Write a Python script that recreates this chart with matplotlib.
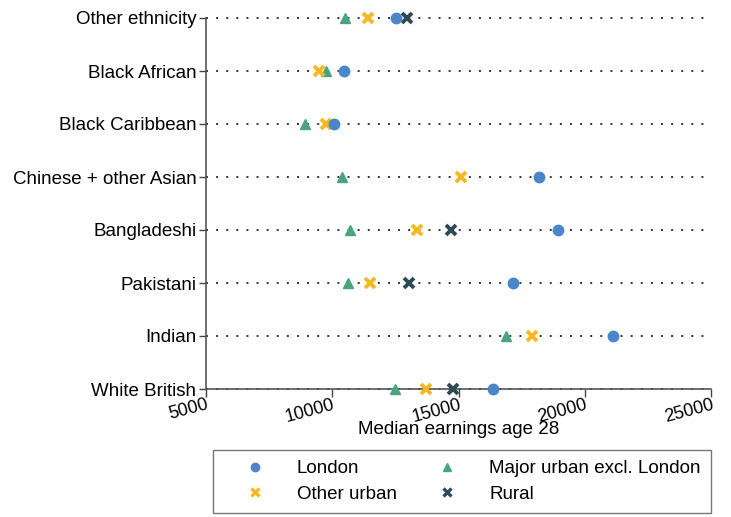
import numpy as np
import matplotlib
matplotlib.use("Agg")
import matplotlib.pyplot as plt
from matplotlib.lines import Line2D

plt.rcParams['font.family'] = ['Liberation Sans', 'DejaVu Sans']

groups = ["White British", "Indian", "Pakistani", "Bangladeshi",
          "Chinese + other Asian", "Black Caribbean", "Black African", "Other ethnicity"]
london = [16380, 21130, 17160, 18930, 18190, 10070, 10470, 12510]
major_urban = [12490, 16880, 10640, 10700, 10370, 8920, 9750, 10505]
other_urban = [13700, 17900, 11500, 13360, 15090, 9750, 9490, 11430]
rural = [14770, np.nan, 13050, 14690, np.nan, np.nan, np.nan, 12960]
xticks = [5000, 10000, 15000, 20000, 25000]

fig = plt.figure(figsize=(7.31, 5.17), dpi=100)
ax = fig.add_axes([206/731, 1-389/517, (711-206)/731, (389-18)/517])

ypos = np.arange(len(groups))
for y in ypos:
    ax.axhline(y, color='#333333', linestyle=(0, (1, 4.2)), linewidth=1.4, zorder=1)

c_lon = '#4a86c8'
c_maj = '#4aa57f'
c_oth = '#f5b820'
c_rur = '#2f4a56'

ax.plot(major_urban, ypos, linestyle='none', marker='^', ms=7.5, color=c_maj, zorder=3)
ax.plot(other_urban, ypos, linestyle='none', marker='x', ms=7, mew=2.8, color=c_oth, zorder=3)
ax.plot(rural, ypos, linestyle='none', marker='x', ms=7, mew=2.8, color=c_rur, zorder=3)
ax.plot(london, ypos, linestyle='none', marker='o', ms=7.5, color=c_lon, zorder=3)

ax.set_xlim(5000, 25000)
ax.set_ylim(0, 7)
ax.set_yticks(ypos)
ax.set_yticklabels(groups, fontsize=13.5)
ax.set_xticks(xticks)
ax.set_xticklabels([str(t) for t in xticks], fontsize=13, rotation=15,
                   ha='right', rotation_mode='anchor')
ax.tick_params(axis='x', length=6, width=1, color='#444444', pad=-1)
ax.tick_params(axis='y', length=5, width=1, color='#444444', pad=2)
ax.set_xlabel("Median earnings age 28", fontsize=13.5, labelpad=-3)
for s in ['top', 'right']:
    ax.spines[s].set_visible(False)
for s in ['left', 'bottom']:
    ax.spines[s].set_color('#555555')
    ax.spines[s].set_linewidth(1.2)
for l in ax.lines:
    l.set_clip_on(False)

handles = [
    Line2D([], [], linestyle='none', marker='o', ms=6, color=c_lon),
    Line2D([], [], linestyle='none', marker='x', ms=5.5, mew=2.4, color=c_oth),
    Line2D([], [], linestyle='none', marker='^', ms=6, color=c_maj),
    Line2D([], [], linestyle='none', marker='x', ms=5.5, mew=2.4, color=c_rur),
]
labels = ["London", "Other urban", "Major urban excl. London", "Rural"]
leg = fig.legend(handles, labels, ncol=2, fontsize=13.5,
                 bbox_to_anchor=(213/731, 1-450/517),
                 loc='upper left', frameon=True, fancybox=False,
                 edgecolor='#555555', handletextpad=0.55, columnspacing=0.99,
                 labelspacing=0.45, borderpad=0.55, handlelength=3.38, borderaxespad=0)
leg.get_frame().set_linewidth(1.0)

fig.savefig("out.png", dpi=100)
